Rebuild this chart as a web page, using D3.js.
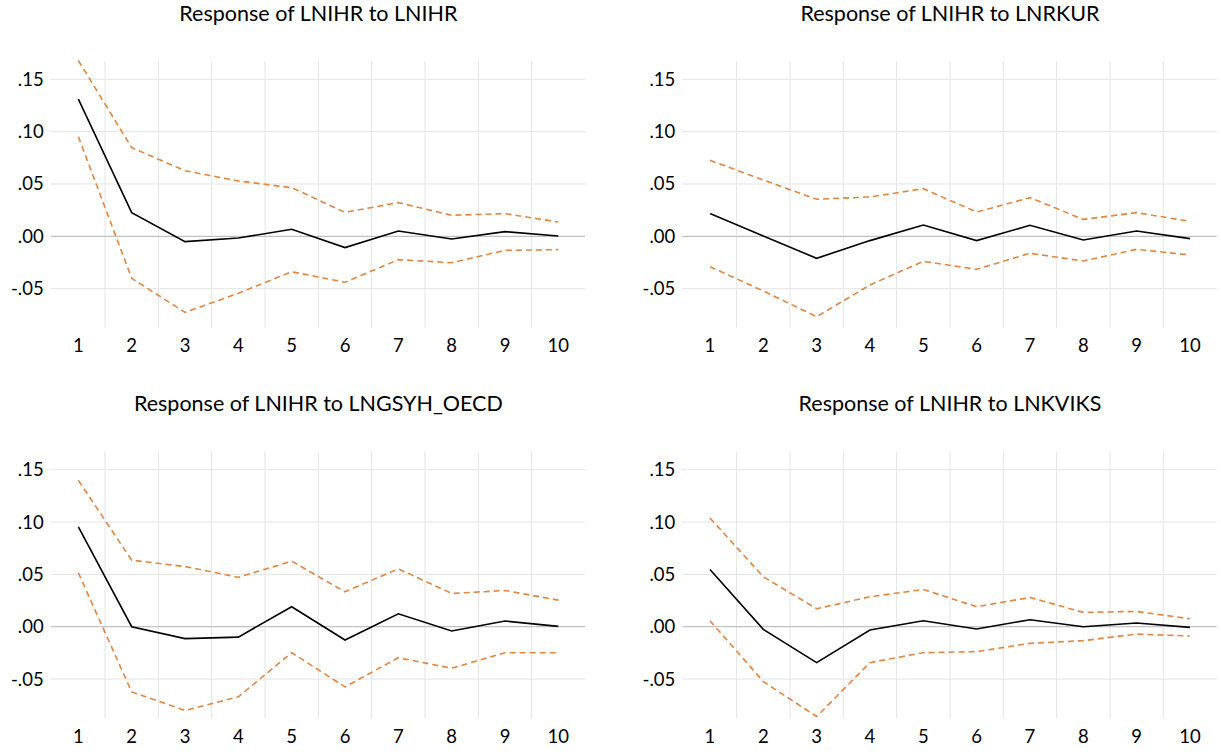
<!DOCTYPE html>
<html>
<head>
<meta charset="utf-8">
<script src="https://cdn.jsdelivr.net/npm/d3@7"></script>
<style>
  body { margin: 0; background: #fff; }
  svg text { font-family: Lato, "Open Sans", sans-serif; fill: #000; }
</style>
</head>
<body>
<div id="chart"></div>
<script>
// impulse responses, 10 periods, with +/- 2 s.e. bands
const periods = ['1','2','3','4','5','6','7','8','9','10'];
const yTicks = [0.15, 0.10, 0.05, 0.00, -0.05];
const yTickLabels = ['.15', '.10', '.05', '.00', '-.05'];

const titles = [
  'Response of LNIHR to LNIHR',
  'Response of LNIHR to LNRKUR',
  'Response of LNIHR to LNGSYH_OECD',
  'Response of LNIHR to LNKVIKS'
];

const respLNIHR  = [0.131, 0.0226, -0.0051, -0.0016, 0.0067, -0.0108, 0.0051, -0.0025, 0.0045, 0.0003];
const upperLNIHR = [0.168, 0.0847, 0.0627, 0.0529, 0.0465, 0.0229, 0.0322, 0.0201, 0.0217, 0.0137];
const lowerLNIHR = [0.0952, -0.0401, -0.0726, -0.0545, -0.0338, -0.0439, -0.0223, -0.0252, -0.0134, -0.0127];

const respLNRKUR  = [0.0217, 0.0003, -0.021, -0.0041, 0.0108, -0.0041, 0.0105, -0.0035, 0.0051, -0.0022];
const upperLNRKUR = [0.0726, 0.0538, 0.0354, 0.0376, 0.0455, 0.0232, 0.0369, 0.0162, 0.0226, 0.0143];
const lowerLNRKUR = [-0.029, -0.0522, -0.0768, -0.0465, -0.0239, -0.0315, -0.0162, -0.0236, -0.0124, -0.0178];

const respLNGSYH  = [0.0953, 0.0, -0.0114, -0.0099, 0.0191, -0.0127, 0.0124, -0.0041, 0.0054, 0.0003];
const upperLNGSYH = [0.1398, 0.0636, 0.0575, 0.0473, 0.0626, 0.0334, 0.0553, 0.0318, 0.0346, 0.0254];
const lowerLNGSYH = [0.0515, -0.0623, -0.080, -0.067, -0.0248, -0.0575, -0.0296, -0.0397, -0.0248, -0.0248];

const respLNKVIKS  = [0.0547, -0.0025, -0.0343, -0.0032, 0.0057, -0.0022, 0.0067, 0.0, 0.0035, -0.0006];
const upperLNKVIKS = [0.1039, 0.0477, 0.0172, 0.0286, 0.0356, 0.0191, 0.028, 0.0137, 0.0146, 0.0076];
const lowerLNKVIKS = [0.0057, -0.0524, -0.0858, -0.0343, -0.0248, -0.0238, -0.0159, -0.0133, -0.007, -0.0089];

const panels = [
  { title: titles[0], resp: respLNIHR,   upper: upperLNIHR,   lower: lowerLNIHR,   left: 51.7,  top: 61 },
  { title: titles[1], resp: respLNRKUR,  upper: upperLNRKUR,  lower: lowerLNRKUR,  left: 683.3, top: 61 },
  { title: titles[2], resp: respLNGSYH,  upper: upperLNGSYH,  lower: lowerLNGSYH,  left: 51.7,  top: 451.4 },
  { title: titles[3], resp: respLNKVIKS, upper: upperLNKVIKS, lower: lowerLNKVIKS, left: 683.3, top: 451.4 }
];

const W = 1221, H = 754;
const pw = 533.3, ph = 266.7;

const svg = d3.select('#chart').append('svg')
  .attr('width', W).attr('height', H);

const x = d3.scaleBand().domain(periods).range([0, pw]).padding(0);
const y = d3.scaleLinear().domain([-0.0873, 0.1675]).range([ph, 0]);

const line = d3.line()
  .x((d, i) => x(periods[i]) + x.bandwidth() / 2)
  .y(d => y(d));

panels.forEach(p => {
  const g = svg.append('g').attr('transform', `translate(${p.left},${p.top})`);

  // vertical grid between periods
  g.selectAll('.vgrid')
    .data(periods.slice(1))
    .enter().append('line')
      .attr('x1', d => x(d)).attr('x2', d => x(d))
      .attr('y1', 0).attr('y2', ph)
      .attr('stroke', '#e4e4e4').attr('stroke-width', 1);

  // horizontal grid
  g.selectAll('.hgrid')
    .data(yTicks)
    .enter().append('line')
      .attr('x1', -1).attr('x2', pw)
      .attr('y1', d => y(d)).attr('y2', d => y(d))
      .attr('stroke', d => d === 0 ? '#b4b4b4' : '#e4e4e4')
      .attr('stroke-width', 1);

  // y labels
  g.selectAll('.ylab')
    .data(yTicks)
    .enter().append('text')
      .attr('x', -8).attr('y', d => y(d))
      .attr('dy', '0.35em')
      .attr('text-anchor', 'end')
      .style('font-size', '18.5px')
      .text((d, i) => yTickLabels[i]);

  // x labels
  g.selectAll('.xlab')
    .data(periods)
    .enter().append('text')
      .attr('x', d => x(d) + x.bandwidth() / 2)
      .attr('y', ph + 18)
      .attr('dy', '0.35em')
      .attr('text-anchor', 'middle')
      .style('font-size', '18.5px')
      .text(d => d);

  // bands
  [p.upper, p.lower].forEach(band => {
    g.append('path')
      .attr('d', line(band))
      .attr('fill', 'none')
      .attr('stroke', '#e5853f')
      .attr('stroke-width', 1.6)
      .attr('stroke-dasharray', '6,4');
  });

  // response
  g.append('path')
    .attr('d', line(p.resp))
    .attr('fill', 'none')
    .attr('stroke', '#000')
    .attr('stroke-width', 1.6);

  // title
  g.append('text')
    .attr('x', pw / 2).attr('y', -48)
    .attr('dy', '0.35em')
    .attr('text-anchor', 'middle')
    .style('font-size', '21.5px')
    .text(p.title);
});
</script>
</body>
</html>
